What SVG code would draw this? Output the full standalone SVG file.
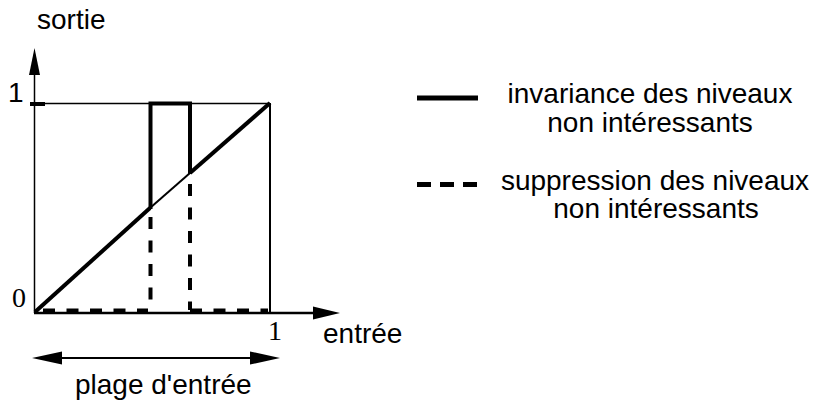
<svg xmlns="http://www.w3.org/2000/svg" width="824" height="406" viewBox="0 0 824 406">
<style>
.t{font-family:"Liberation Sans",Arial,sans-serif;font-size:28px;fill:#000}
.s{font-family:"Liberation Serif","Times New Roman",serif;font-size:28px;fill:#000}
.ln{stroke:#000;fill:none}
.thick{stroke:#000;stroke-width:4;fill:none}
.dash{stroke:#000;stroke-width:4;fill:none;stroke-dasharray:12 11.5}
</style>
<rect width="824" height="406" fill="#fff"/>
<g id="axes">
  <line class="ln" x1="34.5" y1="313" x2="34.5" y2="70" stroke-width="1.5"/>
  <polygon points="34.5,48 29,75 40,75" fill="#000"/>
  <line class="ln" x1="34" y1="313" x2="318" y2="313" stroke-width="2.5"/>
  <polygon points="340,313 313,306.5 313,319.5" fill="#000"/>
  <line class="ln" x1="30" y1="104" x2="45" y2="104" stroke-width="4"/>
  <text class="t" x="37" y="29">sortie</text>
  <text class="t" x="8" y="102">1</text>
  <text class="s" x="12" y="307">0</text>
  <text class="s" x="268" y="340">1</text>
  <text class="t" x="323" y="343">entrée</text>
</g>
<g id="frame">
  <line class="ln" x1="35" y1="103.5" x2="270" y2="103.5" stroke-width="1.5"/>
  <line class="ln" x1="270" y1="103" x2="270" y2="313" stroke-width="2"/>
</g>
<g id="curves">
  <line class="thick" x1="35" y1="312" x2="150" y2="208"/>
  <line class="ln" x1="150" y1="208" x2="190" y2="173" stroke-width="2"/>
  <line class="thick" x1="190" y1="173" x2="270" y2="103"/>
  <path class="thick" d="M150.5,209 V103.5 H190 V174"/>
  <line class="dash" x1="150.5" y1="217" x2="150.5" y2="310"/>
  <line class="dash" x1="190" y1="184" x2="190" y2="310"/>
  <line class="dash" x1="43" y1="310.5" x2="148" y2="310.5" stroke-width="3.5"/>
  <line class="dash" x1="190" y1="310.5" x2="268" y2="310.5" stroke-width="3.5"/>
</g>
<g id="range">
  <line class="ln" x1="55" y1="358" x2="258" y2="358" stroke-width="2"/>
  <polygon points="32,358 62,351.5 62,364.5" fill="#000"/>
  <polygon points="280,358 250,351.5 250,364.5" fill="#000"/>
  <text class="t" x="75" y="394">plage d'entrée</text>
</g>
<g id="legend-solid">
  <line class="ln" x1="417" y1="98" x2="478" y2="98" stroke-width="5"/>
  <text class="t" x="650" y="103" text-anchor="middle">invariance des niveaux</text>
  <text class="t" x="650" y="132" text-anchor="middle">non intéressants</text>
</g>
<g id="legend-dashed">
  <line class="ln" x1="417" y1="184.5" x2="478" y2="184.5" stroke-width="5" stroke-dasharray="14 9"/>
  <text class="t" x="655" y="190" text-anchor="middle">suppression des niveaux</text>
  <text class="t" x="656" y="218" text-anchor="middle">non intéressants</text>
</g>
</svg>
